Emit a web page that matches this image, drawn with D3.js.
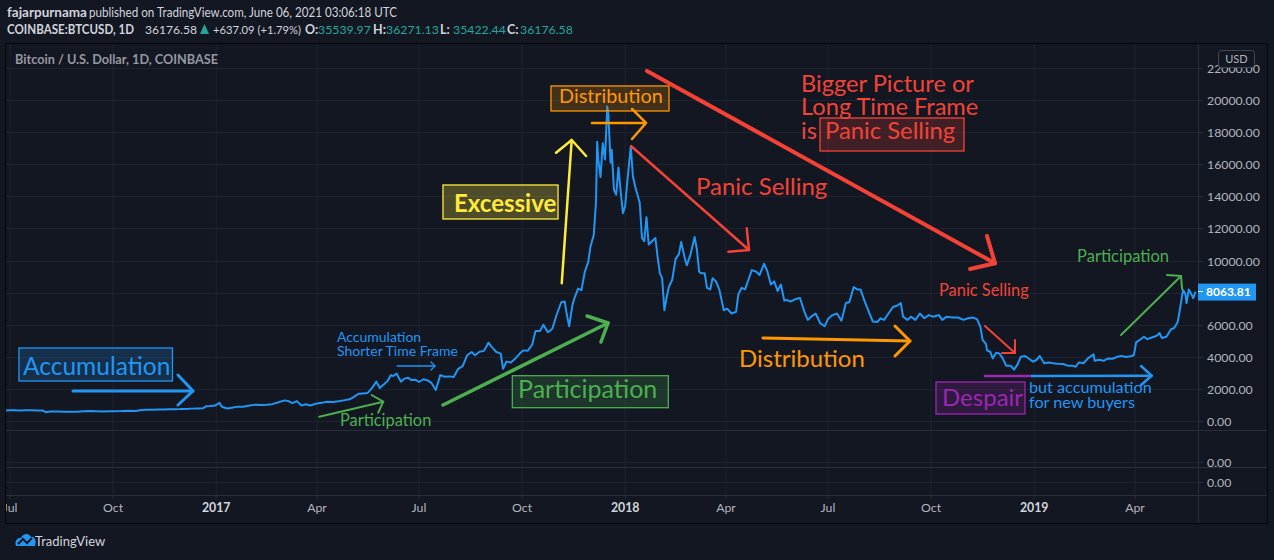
<!DOCTYPE html>
<html><head><meta charset="utf-8">
<script src="https://cdn.jsdelivr.net/npm/d3@7"></script>
<style>html,body{margin:0;padding:0;background:#131722;}svg{display:block}</style>
</head><body>
<svg id="c" width="1274" height="560"></svg>
<script>
// ---------------- DATA ----------------
const dates = [
"2016-06-27","2016-07-01","2016-07-05","2016-07-10","2016-07-15","2016-07-20","2016-07-25","2016-07-30","2016-08-02","2016-08-06","2016-08-12","2016-08-18","2016-08-24","2016-08-30",
"2016-09-05","2016-09-10","2016-09-16","2016-09-22","2016-09-28","2016-10-03","2016-10-09","2016-10-15","2016-10-21","2016-10-27","2016-10-31","2016-11-05","2016-11-10","2016-11-15",
"2016-11-20","2016-11-25","2016-11-30","2016-12-05","2016-12-10","2016-12-15","2016-12-20","2016-12-23","2016-12-27","2016-12-31",
"2017-01-04","2017-01-06","2017-01-11","2017-01-15","2017-01-20","2017-01-25","2017-01-31","2017-02-05","2017-02-10","2017-02-15","2017-02-20","2017-02-25","2017-03-03","2017-03-07",
"2017-03-10","2017-03-14","2017-03-18","2017-03-22","2017-03-26","2017-03-31","2017-04-05","2017-04-10","2017-04-15","2017-04-20","2017-04-26","2017-04-30","2017-05-04","2017-05-08",
"2017-05-12","2017-05-16","2017-05-20","2017-05-24","2017-05-27","2017-05-31","2017-06-03","2017-06-06","2017-06-08","2017-06-11","2017-06-15","2017-06-18","2017-06-21","2017-06-24",
"2017-06-28","2017-07-01","2017-07-05","2017-07-09","2017-07-12","2017-07-16","2017-07-20","2017-07-24","2017-07-28","2017-08-01","2017-08-05","2017-08-09","2017-08-13","2017-08-17",
"2017-08-20","2017-08-24","2017-08-28","2017-09-01","2017-09-04","2017-09-08","2017-09-12","2017-09-14","2017-09-17","2017-09-21","2017-09-25","2017-09-29","2017-10-02","2017-10-06",
"2017-10-10","2017-10-13","2017-10-17","2017-10-20","2017-10-24","2017-10-28","2017-11-01","2017-11-05","2017-11-08","2017-11-10","2017-11-12","2017-11-15","2017-11-17","2017-11-20",
"2017-11-23","2017-11-26","2017-11-29","2017-12-01","2017-12-04","2017-12-06","2017-12-07","2017-12-08","2017-12-10","2017-12-12","2017-12-14","2017-12-16","2017-12-17","2017-12-19",
"2017-12-20","2017-12-22","2017-12-24","2017-12-26","2017-12-28","2017-12-30",
"2018-01-01","2018-01-03","2018-01-06","2018-01-08","2018-01-10","2018-01-12","2018-01-14","2018-01-16","2018-01-18","2018-01-20","2018-01-22","2018-01-25","2018-01-28","2018-01-30",
"2018-02-01","2018-02-03","2018-02-05","2018-02-07","2018-02-09","2018-02-12","2018-02-15","2018-02-18","2018-02-20","2018-02-23","2018-02-25","2018-02-28","2018-03-04","2018-03-06",
"2018-03-08","2018-03-10","2018-03-13","2018-03-15","2018-03-18","2018-03-20","2018-03-23","2018-03-26","2018-03-30","2018-04-02","2018-04-06","2018-04-10","2018-04-12","2018-04-15",
"2018-04-18","2018-04-21","2018-04-24","2018-04-28","2018-05-01","2018-05-05","2018-05-08","2018-05-11","2018-05-14","2018-05-17","2018-05-20","2018-05-23","2018-05-25","2018-05-29",
"2018-06-02","2018-06-06","2018-06-10","2018-06-13","2018-06-16","2018-06-20","2018-06-24","2018-06-28","2018-07-01","2018-07-05","2018-07-09","2018-07-13","2018-07-17","2018-07-20",
"2018-07-24","2018-07-27","2018-07-30","2018-08-03","2018-08-07","2018-08-10","2018-08-14","2018-08-17","2018-08-20","2018-08-24","2018-08-28","2018-09-01","2018-09-04","2018-09-06",
"2018-09-10","2018-09-13","2018-09-17","2018-09-21","2018-09-25","2018-09-29","2018-10-03","2018-10-08","2018-10-11","2018-10-15","2018-10-20","2018-10-25","2018-10-30","2018-11-03",
"2018-11-07","2018-11-11","2018-11-14","2018-11-16","2018-11-19","2018-11-20","2018-11-23","2018-11-25","2018-11-28","2018-12-01","2018-12-04","2018-12-07","2018-12-11","2018-12-14",
"2018-12-17","2018-12-20","2018-12-24","2018-12-28","2018-12-31",
"2019-01-03","2019-01-06","2019-01-10","2019-01-14","2019-01-18","2019-01-22","2019-01-27","2019-01-31","2019-02-04","2019-02-07","2019-02-10","2019-02-14","2019-02-18","2019-02-23",
"2019-02-24","2019-02-28","2019-03-04","2019-03-08","2019-03-12","2019-03-16","2019-03-20","2019-03-24","2019-03-28","2019-03-31","2019-04-02","2019-04-05","2019-04-09","2019-04-12",
"2019-04-16","2019-04-20","2019-04-23","2019-04-25","2019-04-29","2019-05-03","2019-05-06","2019-05-09","2019-05-11","2019-05-13","2019-05-14","2019-05-16","2019-05-17","2019-05-19",
"2019-05-21","2019-05-23","2019-05-25"
];
const prices = [
647,676,670,650,663,665,655,655,547,585,587,574,580,575,
608,622,607,596,605,612,617,638,630,680,700,703,715,712,
730,738,742,755,771,778,792,915,932,963,
1130,890,780,820,895,890,965,1020,995,1010,1050,1150,1285,1230,
1110,1240,970,1040,965,1080,1130,1200,1180,1230,1300,1350,1500,1700,
1720,1740,2050,2450,2050,2300,2500,2860,2800,2950,2450,2640,2700,2560,
2570,2430,2600,2520,2380,1930,2860,2760,2780,2740,3250,3420,4100,4300,
4100,4320,4370,4880,4600,4300,4200,3250,3700,3650,3900,4200,4400,4370,
4750,5600,5600,6000,5530,5750,6650,7400,7450,6600,5900,7250,7700,8250,
8150,9300,9900,10850,11600,13700,17400,16300,15200,17300,16300,19600,19100,16100,
16900,14400,14100,15800,14300,12950,
13400,15000,17100,15200,14600,14100,13600,11400,11200,12700,11000,11200,11400,10200,
9200,8900,6900,7700,8350,8800,10100,10400,11150,10200,9700,10300,11460,10700,
9300,9200,9200,8300,8200,8900,8700,8200,6900,7000,6700,6800,7900,8300,
8200,8800,9400,9300,9100,9800,9300,8500,8700,8100,8500,7500,7540,7450,
7600,7660,6800,6300,6500,6700,6100,5900,6350,6600,6700,6250,7350,7400,
8350,8200,8200,7400,6700,6200,6170,6400,6300,6700,7100,7200,7350,6500,
6300,6500,6300,6700,6400,6600,6500,6600,6300,6500,6450,6450,6300,6400,
6450,6350,5870,5050,4800,4400,4300,3900,4250,4200,3900,3450,3450,3200,
3500,4000,4050,3850,3700,
3800,4050,3600,3650,3600,3570,3550,3450,3450,3380,3650,3600,3900,4150,
3750,3820,3750,3900,3880,4000,4050,3990,4030,4100,4900,5050,5250,5100,
5200,5300,5480,5170,5250,5700,5800,6150,6900,7800,8160,7900,7350,8200,
7950,7650,8063.81
];
const priceTicks = [0,2000,4000,6000,8000,10000,12000,14000,16000,18000,20000,22000];
const timeTickDates = ["2016-07-01","2016-10-01","2017-01-01","2017-04-01","2017-07-01","2017-10-01","2018-01-01","2018-04-01","2018-07-01","2018-10-01","2019-01-01","2019-04-01"];
const timeTickLabels = ["Jul","Oct","2017","Apr","Jul","Oct","2018","Apr","Jul","Oct","2019","Apr"];
const lastPrice = 8063.81;

// ---------------- LAYOUT ----------------
const W = 1274, H = 560;
const L = 6, R = 1198, FR = 1267, T = 44, B = 523;
const paneBottom = 430, pane2Bottom = 467, pane3Bottom = 495;
const BG = "#131722", GRID = "#1f2330", DIV = "#2a2e39", TXT = "#b2b5be";
const FONT = "Lato, 'Open Sans', sans-serif";

const parse = d3.utcParse("%Y-%m-%d");
const data = dates.map((d,i)=>({date:parse(d), v:prices[i]}));
const x = d3.scaleUtc().domain([parse("2016-07-01"), parse("2019-04-01")]).range([10,1135]);
const y = d3.scaleLinear().domain([0,20000]).range([421,100]);
const base = parse("2016-07-01");
const at = (day, p) => [x(new Date(base.getTime()+day*864e5)), y(p)];

const svg = d3.select("#c");
svg.append("rect").attr("width",W).attr("height",H).attr("fill",BG);

const defs = svg.append("defs");
defs.append("clipPath").attr("id","main").append("rect").attr("x",L).attr("y",T).attr("width",R-L).attr("height",paneBottom-T);
defs.append("clipPath").attr("id","taxis").append("rect").attr("x",L).attr("y",T).attr("width",R-L).attr("height",B-T);

// grid: vertical
const gv = svg.append("g").attr("clip-path","url(#taxis)");
gv.selectAll("line").data(timeTickDates).join("line")
  .attr("x1",d=>x(parse(d))).attr("x2",d=>x(parse(d)))
  .attr("y1",T).attr("y2",pane3Bottom).attr("stroke",GRID).attr("stroke-width",1);
// grid: horizontal in main pane
svg.append("g").selectAll("line").data(priceTicks).join("line")
  .attr("x1",L).attr("x2",R).attr("y1",d=>Math.round(y(d))+0.5).attr("y2",d=>Math.round(y(d))+0.5)
  .attr("stroke",GRID);
// lower panes grid
[462.5,482.5].forEach(v=>svg.append("line").attr("x1",L).attr("x2",R).attr("y1",v).attr("y2",v).attr("stroke",GRID));
// dividers
[paneBottom+0.5, pane2Bottom+0.5, pane3Bottom+0.5].forEach(v=>svg.append("line").attr("x1",L).attr("x2",FR).attr("y1",v).attr("y2",v).attr("stroke",DIV));
svg.append("line").attr("x1",R+0.5).attr("x2",R+0.5).attr("y1",T).attr("y2",B).attr("stroke",DIV);

// price line
const line = d3.line().x(d=>x(d.date)).y(d=>y(d.v));
svg.append("path").datum(data).attr("clip-path","url(#main)")
  .attr("d",line).attr("fill","none").attr("stroke","#2196f3").attr("stroke-width",2).attr("stroke-linejoin","round");

// right axis
const ra = svg.append("g");
priceTicks.forEach(p=>{
  const yy = Math.round(y(p))+0.5;
  ra.append("line").attr("x1",R).attr("x2",R+5).attr("y1",yy).attr("y2",yy).attr("stroke",DIV);
  ra.append("text").attr("x",1207).attr("y",yy+4).attr("fill",TXT).attr("font-family",FONT).attr("font-size",12.3).text(d3.format(".2f")(p));
});
[462.5,482.5].forEach(v=>{
  ra.append("line").attr("x1",R).attr("x2",R+5).attr("y1",v).attr("y2",v).attr("stroke",DIV);
  ra.append("text").attr("x",1207).attr("y",v+4).attr("fill",TXT).attr("font-family",FONT).attr("font-size",12.3).text("0.00");
});
// USD badge
ra.append("rect").attr("x",1218.5).attr("y",50.5).attr("width",36).attr("height",17).attr("rx",3).attr("fill",BG).attr("stroke","#434651");
ra.append("text").attr("x",1236.5).attr("y",63).attr("text-anchor","middle").attr("fill",TXT).attr("font-family",FONT).attr("font-size",11).text("USD");
// last price label
const ly = y(lastPrice);
ra.append("rect").attr("x",R).attr("y",ly-8).attr("width",58).attr("height",17).attr("fill","#2196f3");
ra.append("line").attr("x1",R).attr("x2",R+5).attr("y1",ly).attr("y2",ly).attr("stroke","#fff");
ra.append("text").attr("x",R+8).attr("y",ly+4.5).attr("fill","#fff").attr("font-family",FONT).attr("font-weight",700).attr("font-size",12).text(d3.format(".2f")(lastPrice));

// time axis labels
const ta = svg.append("g").attr("clip-path","url(#taxis)");
timeTickDates.forEach((d,i)=>{
  const xx = x(parse(d));
  ta.append("line").attr("x1",xx).attr("x2",xx).attr("y1",pane3Bottom).attr("y2",pane3Bottom+4).attr("stroke",DIV);
  const yr = /^\d{4}$/.test(timeTickLabels[i]);
  ta.append("text").attr("x",xx).attr("y",512).attr("text-anchor","middle").attr("fill",yr?"#d1d4dc":TXT)
    .attr("font-family",FONT).attr("font-size",12.3).attr("font-weight",yr?700:400).text(timeTickLabels[i]);
});

// frame border
svg.append("rect").attr("x",L-0.5).attr("y",T-0.5).attr("width",FR-L+1).attr("height",B-T+1).attr("fill","none").attr("stroke","#050608");

// header
const h1 = svg.append("text").attr("y",17).attr("font-family",FONT).attr("font-size",12.5).attr("fill","#d1d4dc");
h1.append("tspan").attr("x",7).attr("font-weight",700).attr("font-size",13.5).text("fajarpurnama");
h1.append("tspan").attr("x",89).attr("textLength",308).attr("lengthAdjust","spacingAndGlyphs").text("published on TradingView.com, June 06, 2021 03:06:18 UTC");
const h2 = svg.append("text").attr("y",34).attr("font-family",FONT).attr("font-size",11.7).attr("fill","#d1d4dc");
const TEAL = "#26a69a";
h2.append("tspan").attr("x",7).attr("font-weight",700).attr("font-size",13).attr("textLength",127).attr("lengthAdjust","spacingAndGlyphs").text("COINBASE:BTCUSD, 1D");
h2.append("tspan").attr("x",145).attr("textLength",52).attr("lengthAdjust","spacingAndGlyphs").text("36176.58");
// up-triangle marker drawn as a shape
svg.append("path").attr("d","M200,34 L204.5,24 L209,34 Z").attr("fill",TEAL);
h2.append("tspan").attr("x",213).attr("textLength",88).attr("lengthAdjust","spacingAndGlyphs").text("+637.09 (+1.79%)");
[["O:","35539.97",305],["H:","36271.13",373],["L:","35422.44",440],["C:","36176.58",507]].forEach(([k,v,px])=>{
  h2.append("tspan").attr("x",px).attr("font-weight",700).attr("font-size",12.5).text(k);
  h2.append("tspan").attr("x",px+13).attr("fill",TEAL).attr("font-size",12.3).text(v);
});
svg.append("text").attr("x",15).attr("y",64).attr("font-family",FONT).attr("font-size",12.7).attr("font-weight",700).attr("fill","#9598a1").text("Bitcoin / U.S. Dollar, 1D, COINBASE");

// TradingView logo
const lg = svg.append("g").attr("transform","translate(15,533)");
lg.append("path").attr("d","M1 13 C-1 8 3 4 6 5 C8 0 14 0 16 4 C19 3 22 7 20 13 Z").attr("fill","#2196f3");
lg.append("path").attr("d","M3 11 L8 6 L12 10 L17 5").attr("fill","none").attr("stroke","#131722").attr("stroke-width",2);
svg.append("text").attr("x",35).attr("y",546).attr("font-family",FONT).attr("font-size",13).attr("fill","#d1d4dc").text("TradingView");

// ---------------- ANNOTATIONS (anchored in time/price) ----------------
const an = svg.append("g").attr("clip-path","url(#main)");
const BLUE="#2196f3", GREEN="#4caf50", YEL="#ffeb3b", ORG="#ff9800", RED="#f44336", PUR="#9c27b0";
function seg(pts, color, w){ an.append("path").attr("d",d3.line()(pts.map(p=>at(p[0],p[1])))).attr("fill","none").attr("stroke",color).attr("stroke-width",w).attr("stroke-linecap","round").attr("stroke-linejoin","round"); }
function arrow(a,b,arm1,arm2,color,w){ seg([a,b],color,w); seg([arm1,b,arm2],color,w); }
function box(p1,p2,color,op){ const [x1,y1]=at(p1[0],p1[1]), [x2,y2]=at(p2[0],p2[1]);
  an.append("rect").attr("x",x1).attr("y",y1).attr("width",x2-x1).attr("height",y2-y1).attr("fill",color).attr("fill-opacity",op).attr("stroke",color).attr("stroke-width",1.3); }
function label(p,txt,color,size,weight){ const [xx,yy]=at(p[0],p[1]);
  an.append("text").attr("x",xx).attr("y",yy).attr("fill",color).attr("font-family",FONT).attr("font-size",size).attr("font-weight",weight||400).text(txt); }

// Accumulation
box([8,4549],[145,2492],BLUE,0.2);
label([11.6,2866],"Accumulation",BLUE,24.5);
arrow([56.2,1869],[163.3,1869],[149.9,2866],[149.9,997],BLUE,3);
// small Participation
arrow([276,268],[333.1,1203],[322.7,1620],[328.6,517],GREEN,2);
label([294.5,-312],"Participation",GREEN,16.4);
// Accumulation shorter time frame
label([291.8,4922],"Accumulation",BLUE,14);
label([291.8,4050],"Shorter Time Frame",BLUE,14);
arrow([345.4,3427],[379.3,3427],[375.7,3676],[375.7,3178],BLUE,1.3);
// big Participation
box([448.3,2823],[587.5,829],GREEN,0.2);
label([453.4,1433],"Participation",GREEN,25);
arrow([386.4,997],[533.7,6106],[515,6543],[527.4,4922],GREEN,3.5);
// Excessive
box([386.4,14705],[489.1,12586],YEL,0.25);
label([396.3,13023],"Excessive",YEL,24,700);
arrow([492.4,8580],[501.3,17509],[487.3,16717],[514.1,16511],YEL,2.5);
// Distribution top
box([482.8,20874],[588.1,19316],ORG,0.2);
label([490,19815],"Distribution",ORG,19.8);
arrow([519.4,18568],[567.6,18568],[555.1,19440],[555.1,17571],ORG,2.5);
// Panic selling arrow
arrow([554.2,17135],[659.5,10655],[641.1,10549],[657.5,12007],RED,2.5);
label([612.2,14082],"Panic Selling",RED,24);
// Big red arrow
arrow([568.5,21809],[879.1,9825],[856.8,9471],[871.9,11528],RED,4);
// Bigger picture text
label([706,20500],"Bigger Picture or",RED,23.6);
label([706,19067],"Long Time Frame",RED,23.6);
label([706,17571],"is",RED,23.6);
box([722.9,18880],[851.4,16823],RED,0.2);
label([727.4,17571],"Panic Selling",RED,23.8);
// Distribution lower
label([650.6,3365],"Distribution",ORG,24);
arrow([672,5172],[803.2,4985],[789.8,5919],[789.8,4050],ORG,3);
// small panic selling
label([829.1,7789],"Panic Selling",RED,16.4);
arrow([870.1,5919],[896.9,4237],[885.3,4237],[896.9,5047],RED,2);
// Despair
box([826.4,2430],[905.8,436],PUR,0.2);
label([831.8,935],"Despair",PUR,24);
seg([[870.1,2804],[912.1,2804]],PUR,2.5);
arrow([912.1,2804],[1018.9,2823],[1009.4,3427],[1009.4,2243],BLUE,2.5);
label([909.4,1745],"but accumulation",BLUE,16.2);
label([909.4,810],"for new buyers",BLUE,16.2);
// Participation upper right
label([952.3,9907],"Participation",GREEN,16.5);
arrow([991.5,5359],[1045.1,9035],[1032.6,9097],[1046,8225],GREEN,2);
</script>
</body></html>
